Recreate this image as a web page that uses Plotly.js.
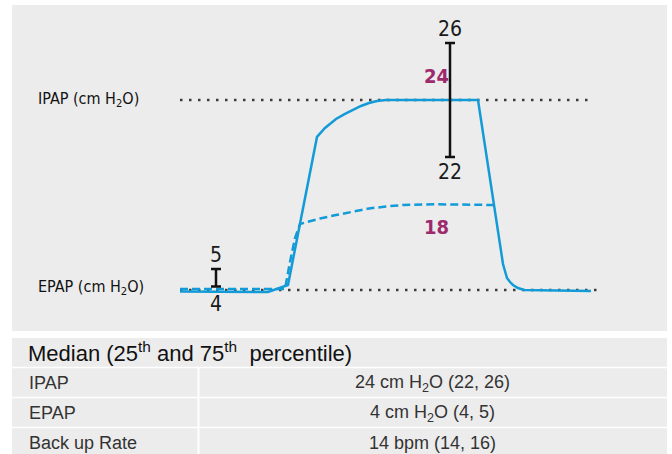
<!DOCTYPE html>
<html>
<head>
<meta charset="utf-8">
<script src="https://cdn.plot.ly/plotly-3.0.1.min.js"></script>
<style>html,body{margin:0;padding:0;background:#fff;}#chart{width:672px;height:454px;}</style>
</head>
<body>
<div id="chart"></div>
<script>
// ---- data (schematic pressure curve, time in arbitrary units, pressure in cm H2O scale) ----
var ipapTime = [0, 88, 108, 137, 145, 156, 165, 173, 181, 189, 197, 206, 298, 323, 325, 327, 330, 333, 338, 344, 411];
var ipapPressure = [3.84, 3.79, 4.53, 20.11, 21.05, 22.00, 22.53, 22.95, 23.37, 23.68, 23.89, 24.00, 24.00, 6.74, 5.89, 5.26, 4.84, 4.53, 4.21, 4.00, 3.89];
var lowTime = [0, 105, 110, 115, 120, 130, 140, 156, 172, 189, 206, 223, 256, 290, 314];
var lowPressure = [4.11, 4.11, 6.95, 9.47, 10.95, 11.26, 11.53, 11.89, 12.26, 12.58, 12.79, 12.95, 13.02, 13.00, 12.95];
var ipapLevel = 24, epapLevel = 4;
var refLineTime = [[0, 414], [0, 417]];
// error bars (schematic)
var barTime = [270, 36];
var barCenter = [24, 5.29];
var barHalf = [6, 0.92];
var barLabelsTop = ['26', '5'];
var barLabelsBottom = ['22', '4'];
var medianLabels = ['24', '18'];
var medianLabelTime = [256, 256];
var medianLabelPressure = [26.5, 10.66];
// table
var tableHeader = 'Median (25<sup>th</sup> and 75<sup>th</sup>&nbsp; percentile)';
var rowLabels = ['IPAP', 'EPAP', 'Back up Rate'];
var rowValues = ['24 cm H<sub>2</sub>O (22, 26)', '4 cm H<sub>2</sub>O (4, 5)', '14 bpm (14, 16)'];
var axisLabels = ['IPAP (cm H<sub>2</sub>O)', 'EPAP (cm H<sub>2</sub>O)'];
var axisLabelPressure = [24.1, 4.25];

// ---- layout helpers ----
var W = 672, H = 454;
function px(y) { return 1 - y / H; }   // pixel row -> paper y
function pxx(x) { return x / W; }

var blue = '#139bd8', magenta = '#9e2a6e', grey = '#ececec';
var narrow = '"DejaVu Sans Condensed", "Liberation Sans Narrow", Arial, sans-serif';
var sans = '"Liberation Sans", Arial, sans-serif';

var traces = [];
[ipapLevel, epapLevel].forEach(function (lv, i) {
  traces.push({x: refLineTime[i], y: [lv, lv], mode: 'lines', hoverinfo: 'skip',
    line: {color: '#3c3c3c', width: 2.5, dash: '2.5px,6.5px'}});
});
traces.push({x: lowTime, y: lowPressure, mode: 'lines', line: {color: blue, width: 2.5, dash: '8px,4px'}});
traces.push({x: ipapTime, y: ipapPressure, mode: 'lines', line: {color: blue, width: 2.5}});
traces.push({x: barTime, y: barCenter, mode: 'markers', marker: {size: 0.1, color: 'rgba(0,0,0,0)'},
  error_y: {type: 'data', array: barHalf, arrayminus: barHalf, color: '#111', thickness: 2.5, width: 5}});

var ann = [];
axisLabels.forEach(function (t, i) {
  ann.push({xref: 'paper', x: pxx(36), xanchor: 'left', yref: 'y', y: axisLabelPressure[i], yanchor: 'middle',
    text: t, showarrow: false, font: {family: narrow, size: 16, color: '#111'}});
});
barTime.forEach(function (t, i) {
  ann.push({x: t, y: barCenter[i] + barHalf[i], yanchor: 'bottom', yshift: 0, text: barLabelsTop[i], showarrow: false,
    font: {family: narrow, size: 21, color: '#1a1a1a'}});
  ann.push({x: t, y: barCenter[i] - barHalf[i], yanchor: 'top', yshift: i === 1 ? -4 : -1, text: barLabelsBottom[i], showarrow: false,
    font: {family: narrow, size: 21, color: '#1a1a1a'}});
});
medianLabels.forEach(function (t, i) {
  ann.push({x: medianLabelTime[i], y: medianLabelPressure[i], text: '<b>' + t + '</b>', showarrow: false,
    font: {family: narrow, size: 20, color: magenta}});
});

// table
var headTop = 338, headBot = 367, rowH = 30;
ann.push({xref: 'paper', yref: 'paper', x: pxx(26), xanchor: 'left', y: px((headTop + headBot) / 2 - 1), yanchor: 'middle',
  text: tableHeader, showarrow: false, font: {family: sans, size: 22, color: '#111'}});
rowLabels.forEach(function (t, i) {
  var yc = headBot + 1 + rowH * i + rowH / 2;
  ann.push({xref: 'paper', yref: 'paper', x: pxx(27), xanchor: 'left', y: px(yc), yanchor: 'middle',
    text: t, showarrow: false, font: {family: sans, size: 18, color: '#333'}});
  ann.push({xref: 'paper', yref: 'paper', x: pxx(432), xanchor: 'center', y: px(yc), yanchor: 'middle',
    text: rowValues[i], showarrow: false, font: {family: sans, size: 18, color: '#333'}});
});

var shapes = [
  {type: 'rect', xref: 'paper', yref: 'paper', x0: pxx(12), x1: pxx(667), y0: px(331), y1: px(5), fillcolor: grey, line: {width: 0}, layer: 'below'},
  {type: 'rect', xref: 'paper', yref: 'paper', x0: pxx(12), x1: pxx(667), y0: 0, y1: px(headTop), fillcolor: grey, line: {width: 0}, layer: 'below'},
  {type: 'line', xref: 'paper', yref: 'paper', x0: pxx(198.5), x1: pxx(198.5), y0: 0, y1: px(headBot), line: {color: '#fff', width: 2}, layer: 'below'}
];
for (var k = 0; k < rowLabels.length; k++) {
  var yl = headBot + 0.5 + rowH * k;
  shapes.push({type: 'line', xref: 'paper', yref: 'paper', x0: pxx(12), x1: pxx(667), y0: px(yl), y1: px(yl),
    line: {color: '#fff', width: 1.5}, layer: 'below'});
}

var layout = {
  width: W, height: H, margin: {l: 0, r: 0, t: 0, b: 0},
  paper_bgcolor: '#fff', plot_bgcolor: 'rgba(0,0,0,0)', showlegend: false,
  xaxis: {range: [-180, 492], visible: false, fixedrange: true},
  yaxis: {range: [-13.263, 34.526], visible: false, fixedrange: true},
  annotations: ann, shapes: shapes
};
Plotly.newPlot('chart', traces, layout, {displayModeBar: false, staticPlot: true}).then(function (gd) {
  // drop empty placeholder text nodes that Plotly leaves behind
  gd.querySelectorAll('text').forEach(function (t) {
    if (!t.textContent || !t.textContent.trim()) t.parentNode.removeChild(t);
  });
});
</script>
</body>
</html>
